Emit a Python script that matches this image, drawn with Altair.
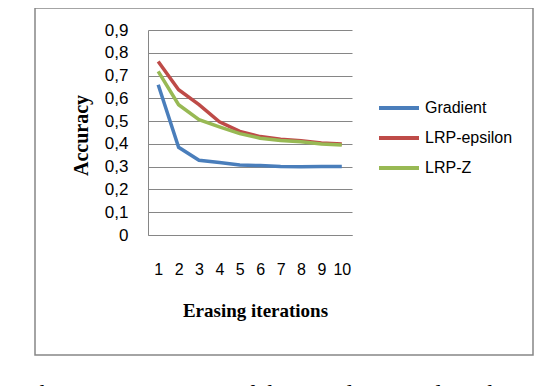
import altair as alt
import pandas as pd

iterations = [1, 2, 3, 4, 5, 6, 7, 8, 9, 10]
gradient = [0.66, 0.385, 0.328, 0.318, 0.307, 0.305, 0.301, 0.300, 0.301, 0.301]
lrp_epsilon = [0.762, 0.638, 0.572, 0.497, 0.455, 0.432, 0.420, 0.414, 0.404, 0.399]
lrp_z = [0.718, 0.572, 0.506, 0.475, 0.445, 0.425, 0.415, 0.409, 0.400, 0.395]
series_names = ["Gradient", "LRP-epsilon", "LRP-Z"]
series_colors = ["#4A7EBB", "#BE4B48", "#98B954"]
y_ticks = [0, 0.1, 0.2, 0.3, 0.4, 0.5, 0.6, 0.7, 0.8, 0.9]
caption = "The erasing accuracy of the visualization algorithms"

rows = []
for name, vals in zip(series_names, [gradient, lrp_epsilon, lrp_z]):
    for it, v in zip(iterations, vals):
        rows.append({"iter": it, "acc": v, "series": name})
df = pd.DataFrame(rows)
one = pd.DataFrame({"k": [0]})

lines = alt.Chart(df).mark_line(strokeWidth=3.5).encode(
    x=alt.X("iter:O", scale=alt.Scale(type="point", padding=0.5),
            axis=alt.Axis(title="Erasing iterations", labelAngle=0, ticks=False,
                          labelPadding=26, labelFontSize=16, labelFont="Liberation Sans",
                          labelColor="#000000", domainColor="#868686", domainWidth=1,
                          titleFont="Liberation Serif", titleFontSize=19, titleFontWeight="bold",
                          titleColor="#000000", titleX=107, titleY=75, titleBaseline="middle",
                          grid=False)),
    y=alt.Y("acc:Q", scale=alt.Scale(domain=[0, 0.9], nice=False),
            axis=alt.Axis(title="Accuracy", values=y_ticks, ticks=False, labelPadding=20,
                          labelExpr="datum.value == 0 ? '0' : replace(format(datum.value, '.1f'), '.', ',')",
                          labelFontSize=17, labelFont="Liberation Sans", labelColor="#000000",
                          domainColor="#868686", domainWidth=1,
                          gridColor="#868686", gridWidth=1, gridOpacity=1,
                          titleFont="Liberation Serif", titleFontSize=20, titleFontWeight="bold",
                          titleColor="#000000", titleX=-67, titleY=105, titleBaseline="middle")),
    color=alt.Color("series:N", scale=alt.Scale(domain=series_names, range=series_colors),
                    legend=alt.Legend(title=None, orient="none", legendX=229, legendY=56,
                                      symbolType="stroke", symbolSize=1600, symbolStrokeWidth=4,
                                      labelFontSize=16, labelFont="Liberation Sans",
                                      labelColor="#000000", labelOffset=4, rowPadding=-4,
                                      padding=0)),
)

frame = alt.Chart(one).mark_rect(fill=None, stroke="#868686", strokeWidth=1.5).encode(
    x=alt.value(-113), x2=alt.value(385), y=alt.value(-22), y2=alt.value(325)
)

cap = alt.Chart(one).mark_text(align="left", baseline="alphabetic", font="Liberation Serif",
                               fontSize=24, color="#000000").encode(
    x=alt.value(-123), y=alt.value(371), text=alt.value(caption)
)

chart = alt.layer(frame, lines, cap).properties(
    width=204, height=205,
    autosize=alt.AutoSizeParams(type="none"),
    padding={"left": 140, "top": 22, "right": 190, "bottom": 151},
).configure_view(stroke=None)

chart.save("out.html", embed_options={"renderer": "svg", "actions": False})
